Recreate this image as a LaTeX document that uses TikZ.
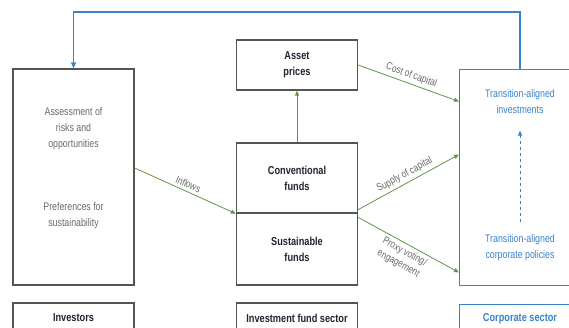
\documentclass[tikz,border=0pt]{standalone}
\usepackage{fontspec}
\setmainfont{Liberation Sans}[FakeStretch=0.8]
\usetikzlibrary{arrows.meta}

\definecolor{boxgrey}{RGB}{85,85,85}
\definecolor{flowgreen}{RGB}{95,150,70}
\definecolor{corpblue}{RGB}{55,130,200}
\definecolor{txtgrey}{RGB}{105,105,105}
\definecolor{txtdark}{RGB}{35,35,50}

\tikzset{
  greybox/.style={draw=boxgrey, line width=1.3pt, fill=white, minimum width=121pt, inner sep=0pt},
  bluebox/.style={draw=corpblue, line width=1pt, minimum width=121pt, inner sep=0pt},
  flow/.style={draw=flowgreen, line width=0.8pt, -{Triangle[length=5pt,width=4pt]}},
  feedback/.style={draw=corpblue, line width=1.5pt, -{Triangle[length=6pt,width=5pt]}},
  greytxt/.style={text=txtgrey, align=center, font=\fontsize{11}{16}\selectfont},
  headtxt/.style={text=txtdark, align=center, font=\bfseries\fontsize{11.5}{16}\selectfont},
  bluetxt/.style={text=corpblue, align=center, font=\fontsize{11}{16}\selectfont},
  flowlbl/.style={text=txtgrey, font=\fontsize{10.5}{13}\selectfont, sloped, inner sep=1pt}
}

\begin{document}
\begin{tikzpicture}[x=1pt,y=-1pt]
\useasboundingbox (0,0) rectangle (569,328);
\clip (0,0) rectangle (569,328);

% investors
\node[greybox, minimum height=216pt] (investors) at (73.5,177) {};
\node[greytxt] (assess) at (73.5,129) {Assessment of\\risks and\\opportunities};
\node[greytxt] (prefs) at (73.5,216) {Preferences for\\sustainability};
\node[greybox, minimum height=30pt] (invsector) at (73.5,318) {};
\node[headtxt] at (invsector) {Investors};

% investment fund sector
\node[greybox, minimum height=50pt] (prices) at (297,65) {};
\node[headtxt] at (prices) {Asset\\prices};
\node[greybox, minimum height=70pt] (conv) at (297,178) {};
\node[headtxt] at (conv) {Conventional\\funds};
\node[greybox, minimum height=72pt] (sust) at (297,249) {};
\node[headtxt] at (sust) {Sustainable\\funds};
\node[greybox, minimum height=30pt] (fundsector) at (297,318) {};
\node[headtxt] at (fundsector) {Investment fund sector};

% corporate sector
\node[bluebox, minimum height=215pt] (corp) at (520,177.5) {};
\node[bluetxt] (investments) at (520,102) {Transition-aligned\\investments};
\node[bluetxt] (policies) at (520,248) {Transition-aligned\\corporate policies};
\node[bluebox, minimum height=30pt] (corpsector) at (520,319) {};
\node[headtxt, text=corpblue] at (corpsector) {Corporate sector};

% flows
\draw[flow] ([yshift=9pt]investors.east) -- node[flowlbl, above=2pt] {Inflows} (conv.south west);
\draw[flow] (conv.north) -- (prices.south);
\draw[flow] (prices.east) -- node[flowlbl, above=2pt] {Cost of capital} ([yshift=76pt]corp.west);
\draw[flow] ([yshift=4pt]conv.south east) -- node[flowlbl, above=2pt] {Supply of capital} ([yshift=23pt]corp.west);
\draw[flow] ([yshift=-5pt]sust.north east) -- node[flowlbl, below=2pt, align=center] {Proxy voting/\\engagement} ([yshift=-95pt]corp.west);

% feedback
\draw[feedback] (corp.north) -- ++(0,-57.5) -| (investors.north);
\draw[corpblue, line width=1pt, dashed, -{Triangle[length=5pt,width=4pt]}, shorten <=9pt, shorten >=13pt] (policies.north) -- (investments.south);
\end{tikzpicture}
\end{document}
